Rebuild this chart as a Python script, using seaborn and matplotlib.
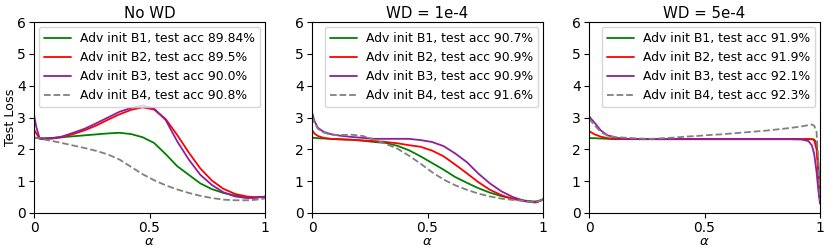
import seaborn as sns
import matplotlib
matplotlib.use("Agg")
import matplotlib.pyplot as plt

# common alpha grid used for every curve
alpha = [0, 0.01, 0.025, 0.05, 0.08, 0.12, 0.17, 0.22, 0.27, 0.32, 0.37, 0.42, 0.47, 0.52,
         0.57, 0.62, 0.67, 0.72, 0.77, 0.82, 0.87, 0.92, 0.95, 0.965, 0.975, 0.985, 0.993, 1.0]

titles = ["No WD", "WD = 1e-4", "WD = 5e-4"]
series_names = ["Adv init B1", "Adv init B2", "Adv init B3", "Adv init B4"]

# test accuracies shown in the legends
acc_nowd = ["89.84%", "89.5%", "90.0%", "90.8%"]
acc_wd1 = ["90.7%", "90.9%", "90.9%", "91.6%"]
acc_wd5 = ["91.9%", "91.9%", "92.1%", "92.3%"]

# No WD
nowd_b1 = [2.37, 2.36, 2.35, 2.35, 2.36, 2.38, 2.41, 2.44, 2.47, 2.5, 2.52, 2.48, 2.38, 2.2,
           1.85, 1.47, 1.2, 0.93, 0.75, 0.63, 0.55, 0.5, 0.49, 0.49, 0.5, 0.5, 0.5, 0.5]
nowd_b2 = [2.62, 2.5, 2.33, 2.33, 2.34, 2.38, 2.48, 2.6, 2.75, 2.93, 3.1, 3.24, 3.32, 3.25,
           2.95, 2.45, 1.9, 1.4, 1.02, 0.76, 0.6, 0.52, 0.5, 0.5, 0.5, 0.5, 0.51, 0.52]
nowd_b3 = [3.08, 2.7, 2.33, 2.33, 2.35, 2.4, 2.52, 2.65, 2.82, 3.0, 3.18, 3.3, 3.38, 3.28,
           2.92, 2.25, 1.68, 1.2, 0.88, 0.65, 0.52, 0.47, 0.47, 0.48, 0.49, 0.5, 0.5, 0.51]
nowd_b4 = [2.37, 2.36, 2.34, 2.3, 2.26, 2.2, 2.12, 2.04, 1.95, 1.84, 1.68, 1.45, 1.22, 1.03,
           0.87, 0.74, 0.63, 0.54, 0.47, 0.42, 0.4, 0.4, 0.41, 0.42, 0.43, 0.44, 0.45, 0.46]

# WD = 1e-4
wd1_b1 = [2.37, 2.36, 2.35, 2.34, 2.33, 2.32, 2.3, 2.27, 2.23, 2.2, 2.11, 1.97, 1.78, 1.57,
          1.36, 1.13, 0.95, 0.78, 0.64, 0.53, 0.45, 0.39, 0.37, 0.36, 0.37, 0.39, 0.41, 0.43]
wd1_b2 = [2.61, 2.5, 2.42, 2.36, 2.33, 2.31, 2.3, 2.28, 2.26, 2.23, 2.19, 2.13, 2.08, 1.96,
          1.78, 1.52, 1.25, 0.97, 0.73, 0.56, 0.44, 0.37, 0.35, 0.35, 0.36, 0.38, 0.4, 0.43]
wd1_b3 = [3.17, 2.9, 2.68, 2.55, 2.48, 2.43, 2.39, 2.36, 2.33, 2.33, 2.33, 2.33, 2.29, 2.23,
          2.1, 1.87, 1.6, 1.24, 0.93, 0.68, 0.5, 0.38, 0.34, 0.33, 0.34, 0.37, 0.4, 0.43]
wd1_b4 = [3.03, 2.85, 2.65, 2.53, 2.46, 2.45, 2.46, 2.42, 2.3, 2.17, 2.02, 1.8, 1.55, 1.28,
          1.05, 0.87, 0.73, 0.61, 0.52, 0.45, 0.41, 0.38, 0.35, 0.35, 0.36, 0.38, 0.4, 0.43]

# WD = 5e-4
wd5_b1 = [2.36, 2.35, 2.35, 2.34, 2.33, 2.32, 2.32, 2.32, 2.32, 2.32, 2.32, 2.32, 2.32, 2.32,
          2.32, 2.32, 2.32, 2.32, 2.32, 2.32, 2.32, 2.32, 2.32, 2.32, 2.31, 2.2, 1.5, 0.35]
wd5_b2 = [2.58, 2.53, 2.47, 2.4, 2.35, 2.33, 2.32, 2.32, 2.32, 2.32, 2.32, 2.32, 2.32, 2.32,
          2.32, 2.32, 2.32, 2.32, 2.32, 2.32, 2.32, 2.32, 2.32, 2.32, 2.28, 2.0, 1.2, 0.3]
wd5_b3 = [3.05, 2.95, 2.83, 2.6, 2.44, 2.36, 2.33, 2.32, 2.32, 2.32, 2.32, 2.32, 2.32, 2.32,
          2.32, 2.32, 2.32, 2.32, 2.32, 2.32, 2.32, 2.31, 2.26, 2.12, 1.85, 1.3, 0.7, 0.3]
wd5_b4 = [2.97, 2.88, 2.75, 2.55, 2.43, 2.38, 2.36, 2.34, 2.33, 2.35, 2.37, 2.4, 2.42, 2.45,
          2.47, 2.5, 2.53, 2.56, 2.59, 2.63, 2.67, 2.72, 2.76, 2.78, 2.74, 2.55, 1.6, 0.4]

panels = [
    (titles[0], acc_nowd, [nowd_b1, nowd_b2, nowd_b3, nowd_b4]),
    (titles[1], acc_wd1, [wd1_b1, wd1_b2, wd1_b3, wd1_b4]),
    (titles[2], acc_wd5, [wd5_b1, wd5_b2, wd5_b3, wd5_b4]),
]

colors = ["green", "red", "#8e1e9e", "gray"]
styles = ["-", "-", "-", "--"]

sns.set_style("ticks", {"axes.edgecolor": "black", "xtick.color": "black",
                        "ytick.color": "black", "text.color": "black",
                        "axes.labelcolor": "black"})
plt.rcParams["font.family"] = ["DejaVu Sans"]

fig = plt.figure(figsize=(8.3, 2.52), dpi=100)
lefts = [34 / 830, 312 / 830, 589 / 830]
width = 231 / 830
bottom = 39 / 252
height = 191 / 252

for i, (title, accs, curves) in enumerate(panels):
    ax = fig.add_axes([lefts[i], bottom, width, height])
    for j, vals in enumerate(curves):
        sns.lineplot(x=alpha, y=vals, ax=ax, color=colors[j], linestyle=styles[j],
                     linewidth=1.3, label=f"{series_names[j]}, test acc {accs[j]}")
    ax.set_xlim(0, 1)
    ax.set_ylim(0, 6)
    ax.set_xticks([0, 0.5, 1])
    ax.set_xticklabels(["0", "0.5", "1"])
    ax.set_yticks(range(7))
    ax.tick_params(labelsize=10, length=3.5, width=0.8, pad=2.5)
    ax.set_title(title, fontsize=10.8, pad=3)
    ax.set_xlabel(r"$\alpha$", fontsize=9.5, labelpad=0)
    if i == 0:
        ax.set_ylabel("Test Loss", fontsize=9.2)
        ax.yaxis.set_label_coords(-0.075, 0.5)
    else:
        ax.set_ylabel("")
    ax.legend(loc="upper right", fontsize=8.9, frameon=True, handlelength=2.2,
              handletextpad=0.75, borderaxespad=0.4)

plt.savefig("out.png", dpi=100)
